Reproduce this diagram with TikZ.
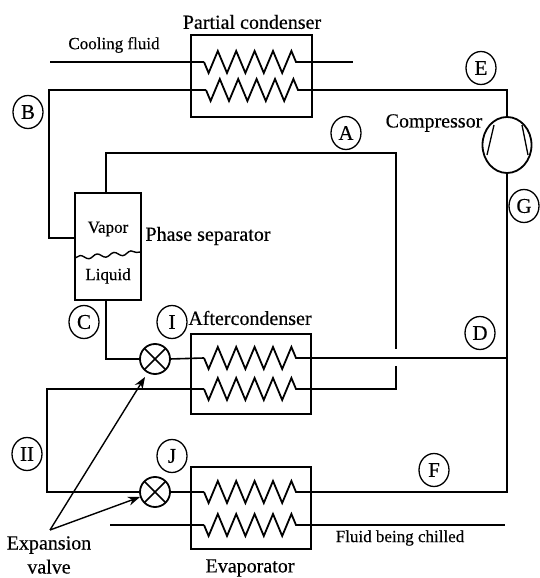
\documentclass[tikz,border=0pt]{standalone}
\usepackage{fontspec}
\setmainfont{Liberation Serif}[BoldFont={Liberation Serif},BoldFeatures={FakeBold=0.35}]
\usetikzlibrary{decorations.pathmorphing,shapes.geometric,arrows.meta}
\tikzset{
  pipe/.style={line width=1.6pt,line join=miter},
  heavypipe/.style={line width=2.2pt},
  coil/.style={line width=1.8pt,decorate,decoration={zigzag,segment length=18.4pt,amplitude=11pt,mirror}},
  exchanger/.style={draw,line width=1.5pt,inner sep=0pt,outer sep=0pt},
  valvemark/.style={draw,circle,line width=1.8pt,minimum size=30pt,inner sep=0pt,outer sep=0pt},
  tagmark/.style={draw,ellipse,line width=1.3pt,minimum width=30pt,minimum height=33pt,inner sep=0pt,font=\bfseries\fontsize{21}{22}\selectfont},
  caption/.style={inner sep=0pt,outer sep=0pt,font=\bfseries\fontsize{20}{24}\selectfont},
  smallcaption/.style={inner sep=0pt,outer sep=0pt,font=\bfseries\fontsize{17}{20}\selectfont}
}
\begin{document}
\begin{tikzpicture}[x=1pt,y=1pt]
\path[use as bounding box,fill=white] (0,0) rectangle (539,578);

% exchangers and vessels
\node[exchanger,minimum width=121pt,minimum height=82pt] (partial) at (251.5,502) {};
\node[exchanger,minimum width=120pt,minimum height=80pt] (after) at (251,204) {};
\node[exchanger,minimum width=120pt,minimum height=82pt] (evap) at (251,70) {};
\node[exchanger,minimum width=66pt,minimum height=107pt] (separator) at (108,331.5) {};
\node[draw,ellipse,line width=1.8pt,minimum width=49pt,minimum height=56pt,inner sep=0pt,outer sep=0pt] (comp) at (507,433) {};
\node[valvemark] (valveI) at (155,219) {};
\node[valvemark] (valveJ) at (155,86) {};

% coil end points
\coordinate (pcA) at (204,516);
\coordinate (pcB) at (296,516);
\coordinate (pcC) at (206,488);
\coordinate (pcD) at (298,488);
\coordinate (acA) at (204,220);
\coordinate (acB) at (296,220);
\coordinate (acC) at (204,189);
\coordinate (acD) at (296,189);
\coordinate (evA) at (204,86);
\coordinate (evB) at (296,86);
\coordinate (evC) at (204,53);
\coordinate (evD) at (296,53);

\draw[coil] (pcA) -- (pcB);
\draw[coil] (pcC) -- (pcD);
\draw[coil] (acA) -- (acB);
\draw[coil] (acC) -- (acD);
\draw[coil] (evA) -- (evB);
\draw[coil] (evC) -- (evD);

% free ends and bends
\coordinate (coolIn) at (50,516);
\coordinate (coolOut) at (353,516);
\coordinate (chillIn) at (110,53);
\coordinate (chillOut) at (505,53);
\coordinate (bendB) at (49,488);
\coordinate (sepIn) at (75,340);
\coordinate (sepTop) at (106,385);
\coordinate (sepBottom) at (106,278);
\coordinate (bendA) at (106,425);
\coordinate (bendAright) at (396,425);
\coordinate (gapTop) at (396,229);
\coordinate (gapBottom) at (396,212);
\coordinate (bendH) at (47,189);
\coordinate (spread) at (50,48);
\coordinate (tipI) at (145,201);
\coordinate (tipJ) at (140,81);

% piping
\draw[heavypipe] (coolIn) -- (pcA);
\draw[heavypipe] (pcB) -- (coolOut);
\draw[pipe] (pcC) -- (bendB) |- (sepIn);
\draw[pipe] (pcD) -| (comp.north);
\draw[pipe] (sepTop) |- (bendAright) -- (gapTop);
\draw[pipe] (gapBottom) |- (acD);
\draw[pipe] (sepBottom) |- (valveI.west);
\draw[pipe] (valveI.east) -- (acA);
\draw[heavypipe] (acB) -- (acB -| comp.south);
\draw[pipe] (acC) -- (bendH) |- (valveJ.west);
\draw[pipe] (valveJ.east) -- (evA);
\draw[heavypipe] (evB) -| (comp.south);
\draw[pipe] (chillIn) -- (evC);
\draw[pipe] (evD) -- (chillOut);

% valve crosses, compressor blades, liquid level
\draw[line width=1.5pt] (valveI.north west) -- (valveI.south east);
\draw[line width=1.5pt] (valveI.north east) -- (valveI.south west);
\draw[line width=1.5pt] (valveJ.north west) -- (valveJ.south east);
\draw[line width=1.5pt] (valveJ.north east) -- (valveJ.south west);
\coordinate (bladeA) at (494,453);
\coordinate (bladeB) at (487,423);
\coordinate (bladeC) at (522,453);
\coordinate (bladeD) at (528,423);
\draw[line width=1.3pt] (bladeA) -- (bladeB);
\draw[line width=1.3pt] (bladeC) -- (bladeD);
\coordinate (levelL) at (75,320);
\coordinate (levelR) at (141,326);
\draw[line width=1.4pt,decorate,decoration={snake,segment length=17pt,amplitude=2pt}] (levelL) -- (levelR);

% expansion valve arrows
\draw[-{Stealth[length=12pt,width=9pt]},line width=1.4pt] (spread) -- (tipI);
\draw[-{Stealth[length=12pt,width=9pt]},line width=1.4pt] (spread) -- (tipJ);

% letters
\node[tagmark] (tagA) at (346,445) {A};
\node[tagmark] (tagB) at (28,466) {B};
\node[tagmark] (tagC) at (84,256) {C};
\node[tagmark] (tagD) at (480,245) {D};
\node[tagmark] (tagE) at (481,510) {E};
\node[tagmark] (tagF) at (434,108) {F};
\node[tagmark] (tagG) at (524,372) {G};
\node[tagmark] (tagH) at (27,124) {II};
\node[tagmark] (tagI) at (172,256) {I};
\node[tagmark] (tagJ) at (172,122) {J};

% captions
\node[caption] (capPartial) at (252,556) {Partial condenser};
\node[smallcaption] (capCooling) at (114,533) {Cooling fluid};
\node[caption] (capCompressor) at (434,455) {Compressor};
\node[caption] (capSeparator) at (208,342) {Phase separator};
\node[smallcaption] (capVapor) at (108,349) {Vapor};
\node[smallcaption] (capLiquid) at (108,302) {Liquid};
\node[caption] (capAfter) at (250,260) {Aftercondenser};
\node[caption,align=center] (capExpansion) at (49,23) {Expansion\\valve};
\node[caption] (capEvap) at (250,10) {Evaporator};
\node[smallcaption] (capChilled) at (400,40) {Fluid being chilled};
\end{tikzpicture}
\end{document}
